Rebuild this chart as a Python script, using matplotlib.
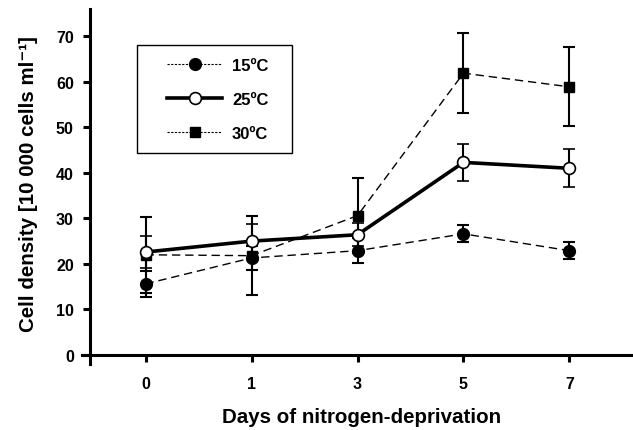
import matplotlib
matplotlib.use("Agg")
import matplotlib.pyplot as plt
from matplotlib.lines import Line2D
from matplotlib.patches import Rectangle

# days of nitrogen deprivation (plotted as equally spaced categories)
days = ["0", "1", "3", "5", "7"]

# cell density [10 000 cells/ml], mean and error
d15 = [15.6, 21.3, 22.9, 26.6, 22.9]
e15 = [2.8, 2.6, 2.8, 1.9, 1.9]
d25 = [22.6, 25.0, 26.4, 42.3, 41.0]
e25 = [3.6, 3.8, 2.5, 4.1, 4.2]
d30 = [22.0, 21.8, 30.6, 61.9, 58.9]
e30 = [8.3, 8.7, 8.2, 8.8, 8.7]

labels = ["15ºC", "25ºC", "30ºC"]
yticks = [0, 10, 20, 30, 40, 50, 60, 70]

plt.rcParams["font.family"] = ["Liberation Sans", "DejaVu Sans"]
plt.rcParams["font.weight"] = "bold"

W, H = 633, 431
fig = plt.figure(figsize=(W / 100, H / 100), dpi=100)
ax = fig.add_axes([82 / W, 66 / H, 551 / W, 355 / H])

x = list(range(len(days)))
err_kw = dict(ecolor="black", elinewidth=1.5, capsize=4.3, capthick=1.5)

ax.errorbar(x, d30, yerr=e30, color="black", lw=1.0, ls=(0, (6, 3.5)),
            marker="s", ms=7.5, mfc="black", mec="black", zorder=2, **err_kw)
ax.errorbar(x, d15, yerr=e15, color="black", lw=1.0, ls=(0, (6, 3.5)),
            marker="o", ms=8.5, mfc="black", mec="black", zorder=3, **err_kw)
ax.errorbar(x, d25, yerr=e25, color="black", lw=2.6, ls="-",
            marker="o", ms=8.5, mfc="white", mec="black", mew=1.2, zorder=4, **err_kw)

ax.set_xlim(-0.6, 4.6)
ax.set_ylim(-2, 76)
ax.set_xticks(x)
ax.set_xticklabels(days)
ax.set_yticks(yticks)

for s in ["top", "right"]:
    ax.spines[s].set_visible(False)
ax.spines["left"].set_position(("data", -0.52))
ax.spines["bottom"].set_position(("data", 0))
for s in ["left", "bottom"]:
    ax.spines[s].set_linewidth(2.2)

ax.tick_params(axis="both", direction="out", length=5, width=2.2, labelsize=11.5)
ax.tick_params(axis="x", pad=10)
ax.tick_params(axis="y", pad=7)
for lab in ax.get_xticklabels() + ax.get_yticklabels():
    lab.set_fontweight("bold")

ax.set_xlabel("Days of nitrogen-deprivation", fontsize=14.8, fontweight="bold")
ax.set_ylabel("Cell density [10 000 cells ml⁻¹]", fontsize=14.8, fontweight="bold")
ax.xaxis.set_label_coords(0.508, -0.12)
ax.yaxis.set_label_coords(-0.08, 0.511)

# legend with its own box
fig.patches.append(Rectangle((137 / W, 1 - 154 / H), 155 / W, 108 / H,
                             transform=fig.transFigure, fill=False,
                             edgecolor="black", lw=1.0))
handles = [
    Line2D([], [], color="black", lw=0.8, ls=(0, (2, 1.3)), marker="o", ms=8.5,
           mfc="black", mec="black"),
    Line2D([], [], color="black", lw=2.6, ls="-", marker="o", ms=8.5,
           mfc="white", mec="black", mew=1.2),
    Line2D([], [], color="black", lw=0.8, ls=(0, (2, 1.3)), marker="s", ms=7.5,
           mfc="black", mec="black"),
]
fig.legend(handles, labels, loc="upper left", bbox_to_anchor=(167 / W, 1 - 59 / H),
           frameon=False, borderpad=0, borderaxespad=0, handlelength=3.3,
           handletextpad=0.6, labelspacing=1.15,
           prop={"size": 12, "weight": "bold"})

fig.savefig("out.png", dpi=100)
